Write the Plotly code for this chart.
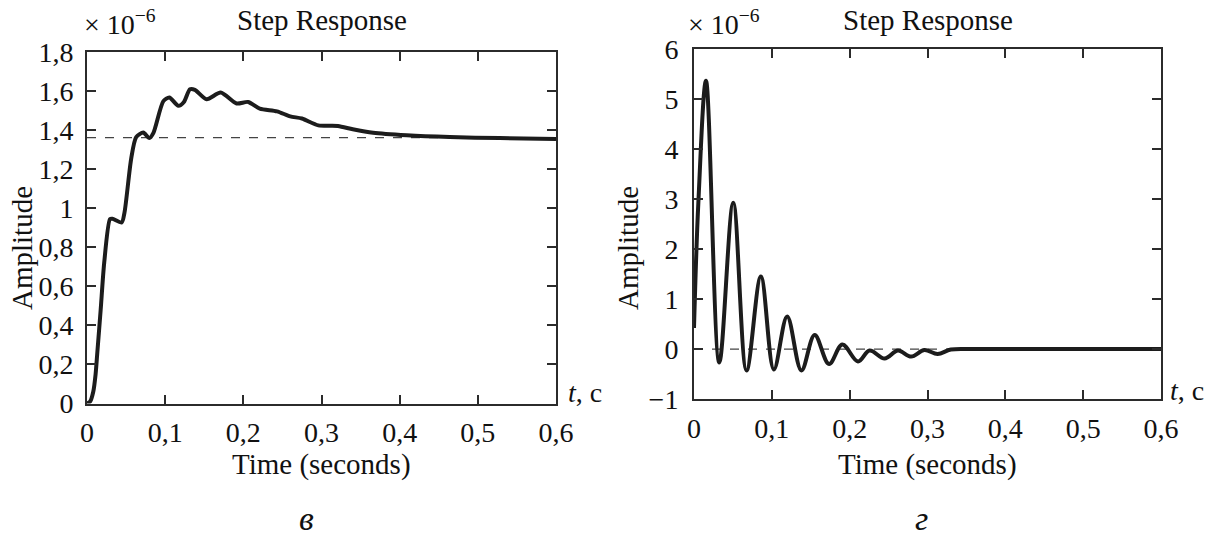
import plotly.graph_objects as go

# ---------------- data ----------------
x_ticks = [0, 0.1, 0.2, 0.3, 0.4, 0.5, 0.6]
x_ticktext = ["0", "0,1", "0,2", "0,3", "0,4", "0,5", "0,6"]

y1_ticks = [0, 0.2, 0.4, 0.6, 0.8, 1.0, 1.2, 1.4, 1.6, 1.8]
y1_ticktext = ["0", "0,2", "0,4", "0,6", "0,8", "1", "1,2", "1,4", "1,6", "1,8"]

y2_ticks = [-1, 0, 1, 2, 3, 4, 5, 6]
y2_ticktext = ["\u22121", "0", "1", "2", "3", "4", "5", "6"]

# left panel (в): step response, amplitude x 1e-6
t_left = [0, 0.004, 0.008, 0.011, 0.013, 0.0175, 0.022, 0.0294, 0.0325, 0.0443,
          0.048, 0.0565, 0.0629, 0.072, 0.0797, 0.085, 0.0977, 0.1053, 0.1168,
          0.124, 0.1317, 0.138, 0.153, 0.171, 0.1913, 0.206, 0.221, 0.243, 0.26,
          0.275, 0.296, 0.321, 0.34, 0.366, 0.409, 0.464, 0.528, 0.6]
amp_left = [0, 0.01, 0.06, 0.15, 0.25, 0.48, 0.72, 0.943, 0.945, 0.926,
            0.978, 1.252, 1.363, 1.386, 1.358, 1.385, 1.547, 1.566, 1.523,
            1.543, 1.608, 1.605, 1.557, 1.591, 1.535, 1.543, 1.509, 1.495, 1.469,
            1.458, 1.423, 1.42, 1.403, 1.385, 1.372, 1.363, 1.358, 1.353]
final_left = 1.36

# right panel (г): step response, amplitude x 1e-6
t_right = [0, 0.0056, 0.0154, 0.0325, 0.0504, 0.0675, 0.0859, 0.1026, 0.1197,
           0.138, 0.155, 0.1735, 0.1906, 0.2107, 0.2256, 0.2449, 0.262, 0.279,
           0.296, 0.313, 0.330, 0.36, 0.6]
amp_right = [0.42, 2.93, 5.37, -0.27, 2.93, -0.43, 1.45, -0.41, 0.65,
             -0.43, 0.28, -0.30, 0.09, -0.25, -0.03, -0.19, -0.03, -0.15,
             -0.02, -0.10, -0.01, 0.0, 0.0]
final_right = 0.0

# ---------------- layout helpers ----------------
W, H = 1208, 538
def px(x):
    return x / W
def py(y):
    return 1 - y / H

FONT = "Liberation Serif, Times New Roman, serif"
INK = "#1c1c1c"
AX = "#2b2b2b"

fig = go.Figure()

# dashed final-value lines
fig.add_trace(go.Scatter(x=[0, 0.6], y=[final_left, final_left], mode="lines",
                         line=dict(color="#444", width=1.3, dash="dash"),
                         xaxis="x", yaxis="y", hoverinfo="skip", showlegend=False))
fig.add_trace(go.Scatter(x=[0, 0.6], y=[final_right, final_right], mode="lines",
                         line=dict(color="#444", width=1.3, dash="dash"),
                         xaxis="x2", yaxis="y2", hoverinfo="skip", showlegend=False))

# curves
fig.add_trace(go.Scatter(x=t_left, y=amp_left, mode="lines",
                         line=dict(color=INK, width=4, shape="spline", smoothing=0.7),
                         xaxis="x", yaxis="y", showlegend=False))
fig.add_trace(go.Scatter(x=t_right, y=amp_right, mode="lines",
                         line=dict(color=INK, width=4, shape="spline", smoothing=1.0),
                         xaxis="x2", yaxis="y2", showlegend=False))

axis_common = dict(
    showline=True, linecolor=AX, linewidth=2, mirror="ticks",
    ticks="inside", ticklen=9, tickwidth=2, tickcolor=AX,
    showgrid=False, zeroline=False, automargin=False,
    tickfont=dict(family=FONT, size=28, color="#111"),
)

fig.update_layout(
    width=W, height=H,
    margin=dict(l=0, r=0, t=0, b=0),
    paper_bgcolor="white", plot_bgcolor="white",
    showlegend=False,
    xaxis=dict(domain=[px(87), px(556)], range=[0, 0.6], anchor="y",
               tickvals=x_ticks, ticktext=x_ticktext, ticklabelstandoff=3,
               **axis_common),
    yaxis=dict(domain=[py(403.5), py(51.7)], range=[0, 1.8], anchor="x",
               tickvals=y1_ticks, ticktext=y1_ticktext, ticklabelstandoff=6,
               **axis_common),
    xaxis2=dict(domain=[px(694), px(1161)], range=[0, 0.6], anchor="y2",
                tickvals=x_ticks, ticktext=x_ticktext, ticklabelstandoff=3,
                **axis_common),
    yaxis2=dict(domain=[py(399), py(49.3)], range=[-1, 6], anchor="x2",
                tickvals=y2_ticks, ticktext=y2_ticktext, ticklabelstandoff=8,
                **axis_common),
)

def ann(text, x, y, size=29, xanchor="center", yanchor="middle", textangle=0):
    fig.add_annotation(text=text, x=px(x), y=py(y), xref="paper", yref="paper",
                       xanchor=xanchor, yanchor=yanchor, showarrow=False,
                       textangle=textangle,
                       font=dict(family=FONT, size=size, color="#111"))

# titles
ann("Step Response", 321.5, 20)
ann("Step Response", 927.5, 20)
# exponent labels
ann("\u00d7 10<sup>\u22126</sup>", 82, 22, size=28, xanchor="left")
ann("\u00d7 10<sup>\u22126</sup>", 686, 22, size=28, xanchor="left")
# x axis titles
ann("Time (seconds)", 321.5, 464)
ann("Time (seconds)", 927.5, 464)
# y axis titles
ann("Amplitude", 22, 248, textangle=-90)
ann("Amplitude", 628, 248, textangle=-90)
# t, c labels
ann("<i>t</i>, c", 566, 392, size=28, xanchor="left")
ann("<i>t</i>, c", 1168, 390, size=28, xanchor="left")
# panel letters
ann("<i>в</i>", 306, 518, size=34)
ann("<i>г</i>", 921, 518, size=34)

fig.write_html("out.html")
